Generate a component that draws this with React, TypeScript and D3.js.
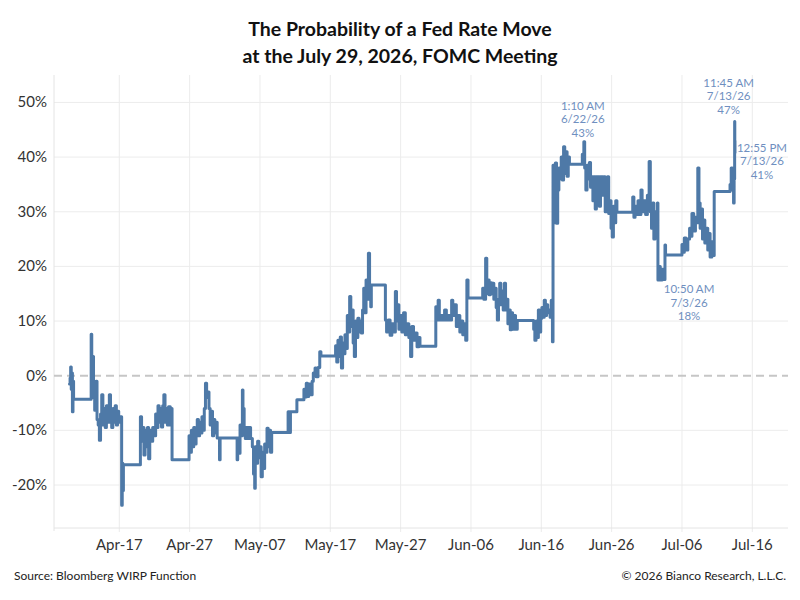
import React from "react";
import * as d3 from "d3";

// ---- data (month-day hour:minute, % probability) ----
const aprilPoints: [string, number][] = [
  ["04-09 22:00", -1.5], ["04-10 00:00", -0.4], ["04-10 02:00", 1.6], ["04-10 04:00", -2.5],
  ["04-10 06:00", 0.5], ["04-10 08:00", -6.6], ["04-10 10:00", -1], ["04-10 12:00", -4.3],
  ["04-13 00:00", 7.6], ["04-13 02:00", 2], ["04-13 04:00", -2], ["04-13 06:00", 3.5],
  ["04-13 08:00", -4], ["04-13 12:00", -6.3], ["04-13 16:00", -1], ["04-13 20:00", -8],
  ["04-14 00:00", -9], ["04-14 04:00", -11.8], ["04-14 08:00", -7], ["04-14 12:00", -3.5],
  ["04-14 16:00", -9], ["04-14 20:00", -6], ["04-15 00:00", -9.5], ["04-15 04:00", -5.5],
  ["04-15 08:00", -8.5], ["04-15 14:00", -3.5], ["04-15 18:00", -7], ["04-15 22:00", -9.5],
  ["04-16 02:00", -6], ["04-16 06:00", -8.5], ["04-16 10:00", -5.5], ["04-16 14:00", -9],
  ["04-16 18:00", -6.5], ["04-16 22:00", -8.5], ["04-17 04:00", -7.5], ["04-17 08:00", -23.7],
  ["04-17 10:00", -16], ["04-17 12:00", -21], ["04-17 14:00", -16.3],
  ["04-20 00:00", -7.5], ["04-20 04:00", -12], ["04-20 08:00", -9.5], ["04-20 12:00", -14.5],
  ["04-20 16:00", -10], ["04-20 20:00", -13], ["04-21 00:00", -9.5], ["04-21 04:00", -15.2],
  ["04-21 08:00", -10], ["04-21 12:00", -12], ["04-21 18:00", -9.5], ["04-22 00:00", -11],
  ["04-22 04:00", -7], ["04-22 08:00", -9.5], ["04-22 12:00", -5.5], ["04-22 16:00", -8.5],
  ["04-22 20:00", -6], ["04-23 00:00", -9.4], ["04-23 04:00", -5.5], ["04-23 08:00", -3.5],
  ["04-23 12:00", -8.5], ["04-23 16:00", -6], ["04-23 20:00", -9], ["04-24 00:00", -5.7],
  ["04-24 06:00", -9], ["04-24 09:00", -6], ["04-24 12:00", -15.4],
  ["04-26 22:00", -11], ["04-27 02:00", -14], ["04-27 06:00", -10], ["04-27 10:00", -13],
  ["04-27 14:00", -9.5], ["04-27 18:00", -12.5], ["04-27 22:00", -10.5], ["04-28 02:00", -8],
  ["04-28 06:00", -11], ["04-28 10:00", -8.5], ["04-28 14:00", -10.5], ["04-28 18:00", -7.5],
  ["04-28 22:00", -10], ["04-29 02:00", -6], ["04-29 06:00", -1.4], ["04-29 10:00", -4],
  ["04-29 14:00", -3], ["04-29 18:00", -6], ["04-29 22:00", -9], ["04-30 02:00", -6.5],
  ["04-30 06:00", -11], ["04-30 10:00", -8], ["04-30 14:00", -10.5], ["04-30 18:00", -8.5],
  ["04-30 22:00", -11.4],
];

const mayPoints: [string, number][] = [
  ["05-01 06:00", -15.4], ["05-01 08:00", -11.4], ["05-03 18:00", -15.4], ["05-03 20:00", -11.4],
  ["05-04 00:00", -14.2], ["05-04 04:00", -9], ["05-04 08:00", -11], ["05-04 12:00", -2.6],
  ["05-04 14:00", -6], ["05-04 18:00", -9.5], ["05-04 22:00", -11.5], ["05-05 02:00", -9.5],
  ["05-05 06:00", -11.5], ["05-05 10:00", -9.5], ["05-05 16:00", -11.5], ["05-05 22:00", -13],
  ["05-06 02:00", -18], ["05-06 06:00", -20.6], ["05-06 08:00", -13], ["05-06 12:00", -16],
  ["05-06 16:00", -12], ["05-06 20:00", -15], ["05-07 00:00", -13], ["05-07 04:00", -18.5],
  ["05-07 08:00", -14], ["05-07 12:00", -17], ["05-07 16:00", -12.5], ["05-07 20:00", -14],
  ["05-08 00:00", -9.6], ["05-08 04:00", -13], ["05-08 08:00", -10], ["05-08 12:00", -14],
  ["05-08 16:00", -10.4], ["05-11 00:00", -6.6], ["05-11 04:00", -10.4], ["05-11 08:00", -6.6],
  ["05-12 06:00", -4.4], ["05-13 06:00", -2.5], ["05-13 10:00", -3.9], ["05-13 14:00", -1.4],
  ["05-13 18:00", -3.8], ["05-13 22:00", -1.5], ["05-14 06:00", -3.5], ["05-14 10:00", -1],
  ["05-14 14:00", 0.5], ["05-14 20:00", 1.4], ["05-15 00:00", -0.2], ["05-15 06:00", 1.5],
  ["05-15 12:00", 4.4], ["05-15 16:00", 3.6], ["05-17 18:00", 5.5], ["05-17 22:00", 2.5],
  ["05-18 02:00", 6.5], ["05-18 06:00", 3.5], ["05-18 10:00", 7.1], ["05-18 14:00", 1.4],
  ["05-18 18:00", 6], ["05-18 22:00", 4], ["05-19 02:00", 7.5], ["05-19 06:00", 5],
  ["05-19 10:00", 11], ["05-19 14:00", 8], ["05-19 18:00", 14.5], ["05-19 22:00", 9],
  ["05-20 02:00", 12], ["05-20 06:00", 6], ["05-20 10:00", 3.5], ["05-20 14:00", 10],
  ["05-20 18:00", 7], ["05-20 22:00", 10.5], ["05-21 02:00", 8], ["05-21 06:00", 10],
  ["05-21 10:00", 7.8], ["05-21 14:00", 12], ["05-21 18:00", 16], ["05-21 22:00", 11.5],
  ["05-22 02:00", 17.5], ["05-22 06:00", 14], ["05-22 10:00", 22.4], ["05-22 14:00", 15],
  ["05-22 18:00", 12.6], ["05-22 20:00", 16.6], ["05-24 20:00", 10.2], ["05-25 00:00", 8],
  ["05-25 06:00", 10.2], ["05-25 12:00", 7.4], ["05-25 18:00", 9.5], ["05-26 00:00", 8],
  ["05-26 06:00", 15.4], ["05-26 10:00", 10], ["05-26 14:00", 13], ["05-26 18:00", 8.5],
  ["05-27 00:00", 11], ["05-27 04:00", 8], ["05-27 10:00", 11.5], ["05-27 16:00", 7.5],
  ["05-27 22:00", 9.5], ["05-28 04:00", 7], ["05-28 10:00", 3.5], ["05-28 14:00", 9],
  ["05-28 20:00", 6.5], ["05-29 02:00", 7.8], ["05-29 08:00", 5.3], ["05-29 14:00", 7],
  ["05-29 18:00", 5.4],
];

const junePoints: [string, number][] = [
  ["06-01 00:00", 12.6], ["06-01 04:00", 10.2], ["06-01 08:00", 13.8], ["06-01 12:00", 10.2],
  ["06-01 18:00", 11], ["06-02 00:00", 10.2], ["06-02 06:00", 12], ["06-02 12:00", 10.2],
  ["06-02 18:00", 11], ["06-03 00:00", 10.2], ["06-03 06:00", 13.8], ["06-03 10:00", 11],
  ["06-03 16:00", 13], ["06-03 22:00", 9], ["06-04 04:00", 11], ["06-04 10:00", 8],
  ["06-04 16:00", 10], ["06-04 20:00", 7.5], ["06-05 00:00", 9.5], ["06-05 06:00", 6.5],
  ["06-05 10:00", 17.5], ["06-05 14:00", 14.2], ["06-07 16:00", 16], ["06-07 20:00", 14],
  ["06-08 02:00", 21.5], ["06-08 06:00", 15], ["06-08 10:00", 17.5], ["06-08 14:00", 14.8],
  ["06-08 18:00", 17], ["06-08 22:00", 15], ["06-09 02:00", 16.9], ["06-09 06:00", 14],
  ["06-09 10:00", 16], ["06-09 14:00", 12.5], ["06-09 18:00", 10.2], ["06-09 22:00", 14],
  ["06-10 02:00", 16.9], ["06-10 06:00", 13], ["06-10 10:00", 15.5], ["06-10 14:00", 12],
  ["06-10 18:00", 16.9], ["06-10 22:00", 12], ["06-11 02:00", 14], ["06-11 06:00", 9.5],
  ["06-11 10:00", 12], ["06-11 14:00", 8.4], ["06-11 18:00", 11.5], ["06-11 22:00", 8.5],
  ["06-12 04:00", 11], ["06-12 08:00", 8.5], ["06-12 14:00", 10.1], ["06-14 22:00", 8.5],
  ["06-15 02:00", 6.5], ["06-15 06:00", 10], ["06-15 10:00", 7], ["06-15 14:00", 12],
  ["06-15 18:00", 8], ["06-15 22:00", 10.5], ["06-16 02:00", 12.5], ["06-16 06:00", 10.7],
  ["06-16 10:00", 13.8], ["06-16 14:00", 11], ["06-16 18:00", 13], ["06-16 22:00", 11.5],
  ["06-17 02:00", 12], ["06-17 06:00", 10.7], ["06-17 10:00", 13.8], ["06-17 14:00", 6.2],
  ["06-17 16:00", 38.5], ["06-17 18:00", 28], ["06-17 20:00", 36], ["06-17 22:00", 30],
  ["06-18 00:00", 38.9], ["06-18 04:00", 27.9], ["06-18 08:00", 34], ["06-18 12:00", 38],
  ["06-18 16:00", 36], ["06-18 20:00", 40], ["06-19 00:00", 35.8], ["06-19 04:00", 41.9],
  ["06-19 08:00", 37], ["06-19 12:00", 41], ["06-19 16:00", 36.5], ["06-19 20:00", 40],
  ["06-20 00:00", 38.7], ["06-21 20:00", 40.5], ["06-22 00:00", 38.7], ["06-22 01:10", 42.8],
  ["06-22 04:00", 38], ["06-22 08:00", 34], ["06-22 12:00", 38.5], ["06-22 16:00", 36],
  ["06-22 20:00", 39], ["06-23 00:00", 34.5], ["06-23 04:00", 36.4], ["06-23 08:00", 32],
  ["06-23 12:00", 36.4], ["06-23 16:00", 30.5], ["06-23 20:00", 36.4], ["06-24 06:00", 31],
  ["06-24 10:00", 36.4], ["06-24 18:00", 33], ["06-24 22:00", 36.4], ["06-25 02:00", 30],
  ["06-25 06:00", 34], ["06-25 10:00", 36.4], ["06-25 14:00", 29.7], ["06-25 18:00", 32],
  ["06-25 22:00", 27], ["06-26 02:00", 25.4], ["06-26 06:00", 31], ["06-26 10:00", 28],
  ["06-26 14:00", 32], ["06-26 18:00", 29.9], ["06-29 00:00", 32.7], ["06-29 04:00", 29],
  ["06-29 08:00", 31], ["06-29 12:00", 29.5], ["06-29 18:00", 32], ["06-30 00:00", 29.5],
  ["06-30 04:00", 34], ["06-30 08:00", 30], ["06-30 14:00", 32], ["06-30 20:00", 29.5],
];

const julyPoints: [string, number][] = [
  ["07-01 02:00", 33], ["07-01 08:00", 39.2], ["07-01 12:00", 30], ["07-01 16:00", 27],
  ["07-01 20:00", 31.6], ["07-02 00:00", 25], ["07-02 04:00", 30], ["07-02 08:00", 26],
  ["07-02 12:00", 31.6], ["07-02 14:00", 17.5], ["07-02 18:00", 20], ["07-02 22:00", 17.5],
  ["07-03 04:00", 19.5], ["07-03 10:50", 17.6], ["07-03 14:00", 23.9], ["07-03 16:00", 22.1],
  ["07-06 00:00", 24], ["07-06 04:00", 22.6], ["07-06 08:00", 25.2], ["07-06 14:00", 23],
  ["07-06 20:00", 25], ["07-07 02:00", 27], ["07-07 06:00", 25.5], ["07-07 10:00", 29.7],
  ["07-07 16:00", 26.5], ["07-07 22:00", 29], ["07-08 02:00", 28], ["07-08 06:00", 38],
  ["07-08 10:00", 31.6], ["07-08 14:00", 27], ["07-08 18:00", 30.5], ["07-08 22:00", 25],
  ["07-09 02:00", 28.5], ["07-09 06:00", 24.3], ["07-09 12:00", 27], ["07-09 16:00", 23],
  ["07-09 20:00", 26], ["07-10 00:00", 21.7], ["07-10 06:00", 24.5], ["07-10 10:00", 22],
  ["07-10 14:00", 33.7], ["07-12 20:00", 35], ["07-13 00:00", 38], ["07-13 04:00", 34],
  ["07-13 08:00", 31.6], ["07-13 10:00", 36], ["07-13 11:45", 46.5], ["07-13 12:15", 43],
  ["07-13 12:55", 40.8],
];

const xTickLabels = ["Apr-17", "Apr-27", "May-07", "May-17", "May-27", "Jun-06", "Jun-16", "Jun-26", "Jul-06", "Jul-16"];
const yTicks = [-20, -10, 0, 10, 20, 30, 40, 50];

const annotationTimes = ["06-22 01:10", "07-13 11:45", "07-13 12:55", "07-03 10:50"];
const annotationValues = [43, 47, 41, 18];
const annotationLabels = [
  ["1:10 AM", "6/22/26", "43%"],
  ["11:45 AM", "7/13/26", "47%"],
  ["12:55 PM", "7/13/26", "41%"],
  ["10:50 AM", "7/3/26", "18%"],
];

const titleLines = ["The Probability of a Fed Rate Move", "at the July 29, 2026, FOMC Meeting"];
const sourceText = "Source: Bloomberg WIRP Function";
const copyrightText = "\u00A9 2026 Bianco Research, L.L.C.";

// ---- layout ----
const W = 800, H = 600;
const plot = { left: 54, right: 788, top: 75, bottom: 528 };
// offsets for annotation text blocks: [dx, dy of first baseline]
const annotationOffsets: [number, number][] = [[-1, -31], [-6, -32], [27, 0], [25, 16]];
const FONT = "Lato, 'Noto Sans', sans-serif";
const LINE = "#4e79a7";
const ANNO = "#6f8fc0";

const parse = d3.timeParse("%Y-%m-%d %H:%M");
const toDate = (s: string) => parse("2026-" + s) as Date;

export default function App() {
  const series = [...aprilPoints, ...mayPoints, ...junePoints, ...julyPoints].map(
    ([t, v]) => ({ date: toDate(t), value: v })
  );
  const tickDates = xTickLabels.map((lab) => d3.timeParse("%b-%d-%Y")(lab + "-2026") as Date);

  const x = d3.scaleTime().domain([tickDates[0], tickDates[tickDates.length - 1]]).range([119.3, 752.3]);
  const y = d3.scaleLinear().domain([-20, 50]).range([485, 102.45]);

  const line = d3
    .line<{ date: Date; value: number }>()
    .x((d) => x(d.date))
    .y((d) => y(d.value))
    .curve(d3.curveStepAfter);

  return (
    <svg width={W} height={H} style={{ position: "absolute", left: 0, top: 0, background: "#fff" }} fontFamily={FONT}>
      <defs>
        <clipPath id="plotclip">
          <rect x={plot.left} y={plot.top - 10} width={plot.right - plot.left} height={plot.bottom - plot.top + 10} />
        </clipPath>
      </defs>
      {/* title */}
      {titleLines.map((t, i) => (
        <text key={t} x={400} y={36 + i * 26.5} textAnchor="middle" fontSize={19.5} fontWeight={700} fill="#111">
          {t}
        </text>
      ))}
      {/* horizontal gridlines */}
      {yTicks.filter((v) => v !== 0).map((v) => (
        <line key={v} x1={plot.left} x2={plot.right} y1={y(v)} y2={y(v)} stroke="#ececec" strokeWidth={1} />
      ))}
      {/* vertical gridlines */}
      {tickDates.map((d, i) => (
        <line key={i} x1={x(d)} x2={x(d)} y1={plot.top} y2={plot.bottom + 4} stroke="#ececec" strokeWidth={1} />
      ))}
      <line x1={plot.left} x2={plot.left} y1={plot.top} y2={plot.bottom + 3} stroke="#e4e4e4" strokeWidth={1} />
      <line x1={plot.left} x2={plot.right} y1={plot.bottom} y2={plot.bottom} stroke="#e4e4e4" strokeWidth={1} />
      {/* zero line */}
      <line x1={plot.left} x2={plot.right} y1={y(0)} y2={y(0)} stroke="#c6c6c6" strokeWidth={2} strokeDasharray="8,5" />
      {/* y labels */}
      {yTicks.map((v) => (
        <text key={v} x={47} y={y(v) + 5} textAnchor="end" fontSize={15} fill="#333">
          {`${v}%`}
        </text>
      ))}
      {/* x labels */}
      {tickDates.map((d, i) => (
        <text key={i} x={x(d)} y={549.5} textAnchor="middle" fontSize={15} fill="#333">
          {xTickLabels[i]}
        </text>
      ))}
      {/* series */}
      <path
        d={line(series) || ""}
        fill="none"
        stroke={LINE}
        strokeWidth={3}
        strokeLinejoin="round"
        strokeLinecap="round"
        clipPath="url(#plotclip)"
      />
      {/* annotations */}
      {annotationTimes.map((t, i) => {
        const ax = x(toDate(t)) + annotationOffsets[i][0];
        const ay = y(annotationValues[i]) + annotationOffsets[i][1];
        return (
          <g key={t + i}>
            {annotationLabels[i].map((s, j) => (
              <text key={j} x={ax} y={ay + j * 13.5} textAnchor="middle" fontSize={11.5} fill={ANNO}>
                {s}
              </text>
            ))}
          </g>
        );
      })}
      {/* footer */}
      <text x={14} y={580} fontSize={12} fill="#222">{sourceText}</text>
      <text x={786} y={580} fontSize={12} fill="#222" textAnchor="end">{copyrightText}</text>
    </svg>
  );
}
